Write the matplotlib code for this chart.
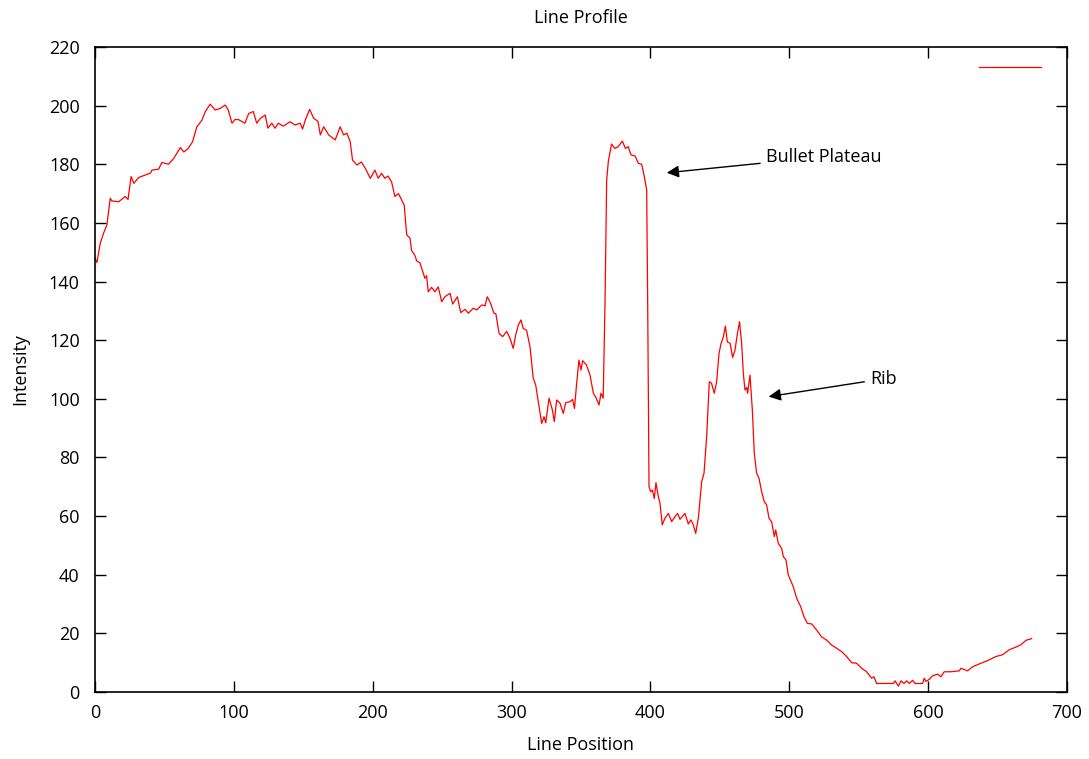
import matplotlib
matplotlib.use('Agg')
import matplotlib.pyplot as plt

# values
position = [0, 1.4, 3.8, 6.2, 8.6, 11, 12.2, 17, 21.8, 23.8, 26, 28, 31.5, 36, 40, 41,
            45.8, 48.2, 53, 56.7, 61.5, 64, 67, 70.3, 73.4, 77, 79.5, 83, 86.6, 90, 93.8,
            96, 98.7, 101, 103.5, 108, 110.7, 114, 116.5, 119, 122.6, 124.5, 127.3, 129.7,
            132, 135.7, 140.5, 144, 147.8, 149.5, 151.4, 154.6, 157.5, 160.6, 162.3, 164.7,
            168.3, 173, 176.6, 179, 181.4, 183.8, 185.5, 188.7, 191.8, 194.7, 198.3, 201.6,
            204, 206.4, 208.8, 211, 213.6, 216, 218.5, 220.9, 222.7, 224.5, 226.9, 228,
            230.3, 231.7, 234, 236, 237.6, 238.8, 240, 242.4, 244.8, 247.2, 249.7, 252,
            255.7, 257.6, 261, 263.4, 266.5, 268.9, 272.5, 274.9, 278.5, 280.9, 282.5,
            284.9, 287.3, 288.7, 291, 293.6, 296.5, 298.9, 301.2, 303, 304.9, 306.8, 308.4,
            310.8, 313.3, 315.6, 317.4, 319.3, 321.7, 323.4, 324.6, 327, 329.4, 330.8,
            332.5, 334.9, 337.3, 339, 342.1, 344, 345.3, 346.9, 348.5, 350, 351.2, 354,
            356.5, 358.9, 360.5, 363, 364.4, 366, 367.3, 368.5, 369.7, 372, 374.4, 376.8,
            379.8, 382, 384, 386, 389, 391.3, 393.7, 395.6, 397.3, 398, 399, 400.2, 401.4,
            402.8, 404, 405.7, 406.9, 408.5, 410.4, 412.9, 415.3, 417.7, 419.6, 421.3,
            424.9, 427.3, 429.2, 430.9, 432.6, 434.5, 436.9, 438.6, 440.5, 442.4, 444, 446,
            447.7, 449.4, 450.9, 452.5, 454, 455.4, 457.4, 459.2, 460.9, 462.5, 464.2,
            465.7, 466.9, 468.1, 469.3, 470, 471.7, 473.4, 474.8, 476.5, 478.2, 480.1, 482,
            483.7, 485.4, 487.3, 489.2, 490.2, 492.1, 494.5, 495.7, 497.6, 499.3, 502.9,
            505.3, 508.2, 510.6, 513, 516.2, 519.7, 523.3, 526.9, 530.5, 534.1, 537.7,
            541.3, 544.9, 548.5, 552.1, 555.7, 559.3, 561, 562.9, 575, 576.2, 578.6, 580.5,
            582.6, 584.6, 586.5, 588.8, 590.5, 596, 597.2, 598.4, 600.8, 603.2, 606.8,
            609.2, 611.6, 616.4, 622.4, 623.6, 628.4, 632, 638, 642.8, 648.8, 653.6, 658.4,
            663.2, 666.8, 670.4, 674.5]
intensity = [148, 146.5, 153, 156.5, 159.3, 168.4, 167.5, 167.2, 169, 168, 175.8, 173.5,
             175.5, 176.3, 177, 178, 178.3, 180.6, 180, 182, 185.7, 184.2, 185.3, 187.7,
             192.8, 195, 198, 200.5, 198.5, 199, 200.2, 198.5, 194, 195.3, 195.2, 194,
             197.3, 198, 194, 195.6, 196.8, 192.3, 194, 192.3, 194, 193, 194.5, 193.4, 194,
             192, 195, 198.7, 195.7, 194.6, 190, 192.8, 190, 188.3, 192.8, 190, 190.6,
             187.7, 181.4, 179.7, 180.8, 178.6, 175.2, 178, 175.2, 176.9, 175.2, 176, 174,
             169, 170, 167.8, 166, 155.9, 154.8, 150.6, 149, 147, 146.4, 143.4, 141.1, 142,
             136.5, 138, 136.5, 138.2, 133.1, 134.8, 136, 132.3, 134.8, 129.4, 130.5, 129.2,
             130.9, 130.3, 132, 131.7, 134.8, 132.6, 129.2, 129, 122.3, 121.2, 123, 120.6,
             117.2, 121.8, 125.2, 126.9, 124, 123.4, 117.8, 107, 104.7, 99, 91.6, 93.9,
             91.8, 100.2, 96.2, 92.2, 99.6, 98.5, 95, 98.7, 99, 99.8, 96.7, 105.3, 113.2,
             109.8, 113, 111.5, 108.1, 101.9, 100.7, 97.9, 101.9, 100.2, 132.6, 174.6, 181,
             186.9, 185.4, 186, 187.9, 185.4, 186, 183.2, 182.8, 180.3, 180, 175.8, 171.2,
             134.8, 70, 68.3, 68.9, 66, 71.4, 66.6, 64.4, 57, 59.2, 60.9, 58.1, 59.8, 60.9,
             58.9, 60.9, 57.3, 58.7, 57, 54.1, 59.2, 71.7, 74.6, 87.1, 105.8, 105.3, 101.9,
             105.8, 115.5, 118.9, 121.1, 124.8, 119.4, 118.9, 114.1, 116.6, 121.8, 126.3,
             118.9, 108.7, 103, 103.9, 101.9, 108.1, 96.2, 81.4, 74.6, 72.9, 68.3, 64.9,
             63.8, 59.2, 58.1, 53, 55.3, 50.7, 49, 46.2, 45, 39.9, 35.9, 32, 29.1, 25.7,
             23.4, 23.2, 21.1, 18.8, 17.7, 16, 14.9, 13.8, 12.1, 10, 9.8, 8.1, 6.9, 4.7,
             5.2, 2.9, 2.9, 3.8, 2, 3.8, 2.9, 3.8, 2.9, 4, 2.9, 2.9, 4.7, 3.6, 4.3, 5.5,
             6.1, 5.2, 6.9, 6.9, 7.2, 8.1, 7.2, 8.6, 9.8, 10.7, 12.1, 12.7, 14.4, 15.3,
             16.1, 17.6, 18.2]

x_ticks = [0, 100, 200, 300, 400, 500, 600, 700]
y_ticks = [0, 20, 40, 60, 80, 100, 120, 140, 160, 180, 200, 220]

plt.rcParams['font.family'] = ['Open Sans', 'DejaVu Sans']
fs = 13

fig = plt.figure(figsize=(10.89, 7.59), dpi=100)
ax = fig.add_axes([0.0872, 0.0883, 0.8926, 0.8498])

ax.plot(position, intensity, color='#ff0000', lw=0.9, label=' ')

ax.set_xlim(0, 700)
ax.set_ylim(0, 220)
ax.set_xticks(x_ticks)
ax.set_yticks(y_ticks)
ax.tick_params(direction='in', length=8, width=1, top=True, right=True, labelsize=fs)
ax.tick_params(axis='x', pad=9)
ax.tick_params(axis='y', pad=11)
for s in ax.spines.values():
    s.set_linewidth(1.2)

ax.set_title('Line Profile', fontsize=fs, pad=17)
ax.set_xlabel('Line Position', fontsize=fs, labelpad=10)
ax.set_ylabel('Intensity', fontsize=fs, labelpad=14)

ax.legend(loc='upper right', frameon=False, handlelength=3.4, handletextpad=0.5,
          borderaxespad=0.3, fontsize=fs)

arrow = dict(arrowstyle='-|>', color='black', lw=1, mutation_scale=18)
ax.annotate('Bullet Plateau', xy=(409.8, 177), xytext=(483, 182.5),
            va='center', ha='left', fontsize=fs, arrowprops=arrow)
ax.annotate('Rib', xy=(483.2, 100.6), xytext=(558, 106.8),
            va='center', ha='left', fontsize=fs, arrowprops=arrow)

fig.savefig('out.png', dpi=100)
